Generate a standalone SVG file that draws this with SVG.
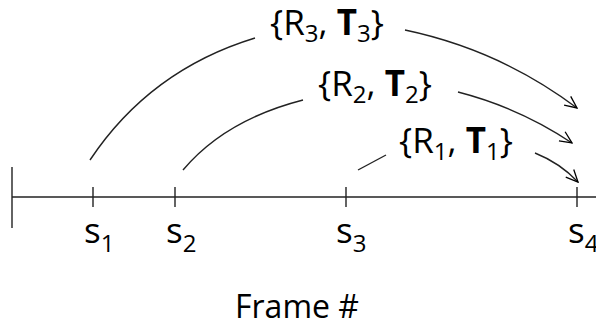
<svg xmlns="http://www.w3.org/2000/svg" width="596" height="333" viewBox="0 0 596 333">
<defs>
<marker id="ah" viewBox="0 0 14 14" refX="13" refY="7" markerWidth="14" markerHeight="14" markerUnits="userSpaceOnUse" orient="auto">
<path d="M1,1.5 L13,7 L1,12.5" fill="none" stroke="#000" stroke-width="1.3"/>
</marker>
<style>
.ln{fill:none;stroke:#222;stroke-width:1.4}
.t{font-family:"Open Sans","Liberation Sans",sans-serif;fill:#000}
.lbl{font-size:35px}
.sub{font-size:24px}
</style>
</defs>
<rect width="596" height="333" fill="#fff"/>
<g id="axis">
<line class="ln" x1="12" y1="197" x2="596" y2="197"/>
<line class="ln" x1="12" y1="167" x2="12" y2="228"/>
</g>
<g id="s1">
<line class="ln" x1="93" y1="187" x2="93" y2="207"/>
<text class="t lbl" x="84" y="243">s<tspan class="sub" dy="9">1</tspan></text>
</g>
<g id="s2">
<line class="ln" x1="175" y1="187" x2="175" y2="207"/>
<text class="t lbl" x="166" y="243">s<tspan class="sub" dy="9">2</tspan></text>
</g>
<g id="s3">
<line class="ln" x1="346" y1="187" x2="346" y2="207"/>
<text class="t lbl" x="336" y="243">s<tspan class="sub" dy="9">3</tspan></text>
</g>
<g id="s4">
<line class="ln" x1="577" y1="187" x2="577" y2="207"/>
<text class="t lbl" x="568" y="243">s<tspan class="sub" dy="9">4</tspan></text>
</g>
<g id="label-r3">
<text class="t lbl" x="270" y="35">{R<tspan class="sub" dy="7">3</tspan><tspan dy="-7">, </tspan><tspan font-weight="bold">T</tspan><tspan class="sub" dy="7">3</tspan><tspan dy="-7">}</tspan></text>
</g>
<g id="label-r2">
<text class="t lbl" x="318" y="96">{R<tspan class="sub" dy="7">2</tspan><tspan dy="-7">, </tspan><tspan font-weight="bold">T</tspan><tspan class="sub" dy="7">2</tspan><tspan dy="-7">}</tspan></text>
</g>
<g id="label-r1">
<text class="t lbl" x="399" y="153">{R<tspan class="sub" dy="7">1</tspan><tspan dy="-7">, </tspan><tspan font-weight="bold">T</tspan><tspan class="sub" dy="7">1</tspan><tspan dy="-7">}</tspan></text>
</g>
<g id="title">
<text class="t" x="297" y="318" font-size="32" text-anchor="middle">Frame #</text>
</g>
<g id="connectors">
<path class="ln" d="M90,160 Q150,70 255,38"/>
<path class="ln" d="M405,30 Q500,50 577,108" marker-end="url(#ah)"/>
<path class="ln" d="M183,170 Q225,120 303,100"/>
<path class="ln" d="M458,92 Q520,108 572,143" marker-end="url(#ah)"/>
<path class="ln" d="M358,170 L386,155"/>
<path class="ln" d="M535,153 Q560,163 578,182" marker-end="url(#ah)"/>
</g>
</svg>
